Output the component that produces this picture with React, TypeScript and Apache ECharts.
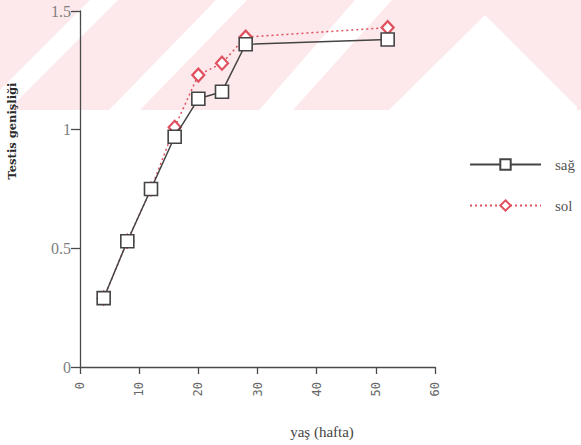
import React, { useEffect, useRef } from "react";
import * as echarts from "echarts";

// Age in weeks and testis width for right (sağ) and left (sol)
const ageWeeks = [4, 8, 12, 16, 20, 24, 28, 52];
const sagWidth = [0.29, 0.53, 0.75, 0.97, 1.13, 1.16, 1.36, 1.38];
const solWidth = [0.29, 0.53, 0.75, 1.01, 1.23, 1.28, 1.39, 1.43];

const seriesNames = ["sağ", "sol"];
const xTitle = "yaş (hafta)";
const yTitle = "Testis genişliği";

const W = 581;
const H = 445;

const BAND_PINK = "#fde8eb";

// Pale diagonal band pattern across the top of the page
const bandShapes: number[][][] = [
  [[90, 0], [118, 0], [8, 110], [-20, 110]],
  [[216, 0], [247, 0], [140, 110], [109, 110]],
  [[355, 0], [392, 0], [293, 110], [259, 110]],
  [[485, 15], [577, 107], [577, 110], [389, 110]],
];

export default function App() {
  const ref = useRef<HTMLDivElement>(null);

  useEffect(() => {
    if (!ref.current) return;
    const chart = echarts.init(ref.current, undefined, { renderer: "svg" });

    const toPairs = (ys: number[]) => ageWeeks.map((x, i) => [x, ys[i]]);

    const graphic: any[] = [
      {
        type: "rect",
        z: -10,
        silent: true,
        shape: { x: 0, y: 0, width: W, height: 110 },
        style: { fill: BAND_PINK },
      },
      ...bandShapes.map((pts) => ({
        type: "polygon",
        z: -9,
        silent: true,
        shape: { points: pts },
        style: { fill: "#ffffff" },
      })),
      {
        type: "text",
        x: 12,
        y: 131,
        rotation: Math.PI / 2,
        style: {
          text: yTitle,
          fill: "#2a2a2a",
          font: "bold 11.5px 'DejaVu Serif', serif",
          align: "center",
          verticalAlign: "middle",
        },
      },
      {
        type: "text",
        x: 322,
        y: 432,
        style: {
          text: xTitle,
          fill: "#444",
          font: "15px 'Liberation Serif', serif",
          align: "center",
          verticalAlign: "middle",
        },
      },
    ];

    chart.setOption({
      animation: false,
      backgroundColor: "#ffffff",
      graphic,
      grid: { left: 80, right: W - 435, top: 11, bottom: H - 367 },
      legend: {
        orient: "vertical",
        left: 464,
        top: 152,
        itemWidth: 71,
        itemHeight: 13,
        itemGap: 26,
        textStyle: {
          fontFamily: "'Liberation Serif', serif",
          fontSize: 15,
          color: "#555",
          padding: [0, 0, 0, 9],
        },
        data: seriesNames,
      },
      xAxis: {
        type: "value",
        min: 0,
        max: 60,
        interval: 10,
        splitLine: { show: false },
        axisLine: { lineStyle: { color: "#4a4a4a", width: 1.3 } },
        axisTick: { length: 7, lineStyle: { color: "#4a4a4a", width: 1.3 } },
        axisLabel: {
          rotate: 90,
          margin: 15,
          color: "#666",
          fontFamily: "'DejaVu Sans Mono', monospace",
          fontSize: 12,
        },
      },
      yAxis: {
        type: "value",
        min: 0,
        max: 1.5,
        interval: 0.5,
        splitLine: { show: false },
        axisLine: { show: true, lineStyle: { color: "#4a4a4a", width: 1.3 } },
        axisTick: { show: true, length: 9, lineStyle: { color: "#4a4a4a", width: 1.3 } },
        axisLabel: {
          margin: 9,
          color: "#808080",
          fontFamily: "'Liberation Serif', serif",
          fontSize: 16,
        },
      },
      series: [
        {
          name: seriesNames[1],
          type: "line",
          z: 2,
          data: toPairs(solWidth),
          symbol: "diamond",
          symbolSize: [12, 13],
          lineStyle: { color: "#e0505e", width: 1.5, type: [2, 3] },
          itemStyle: { color: "#ffffff", borderColor: "#e0505e", borderWidth: 2.2 },
        },
        {
          name: seriesNames[0],
          type: "line",
          z: 3,
          data: toPairs(sagWidth),
          symbol: "rect",
          symbolSize: 13,
          lineStyle: { color: "#444", width: 1.5 },
          itemStyle: { color: "#ffffff", borderColor: "#444", borderWidth: 1.6 },
        },
      ],
    });

    return () => chart.dispose();
  }, []);

  return (
    <div
      ref={ref}
      style={{ position: "fixed", left: 0, top: 0, width: W, height: H }}
    />
  );
}
